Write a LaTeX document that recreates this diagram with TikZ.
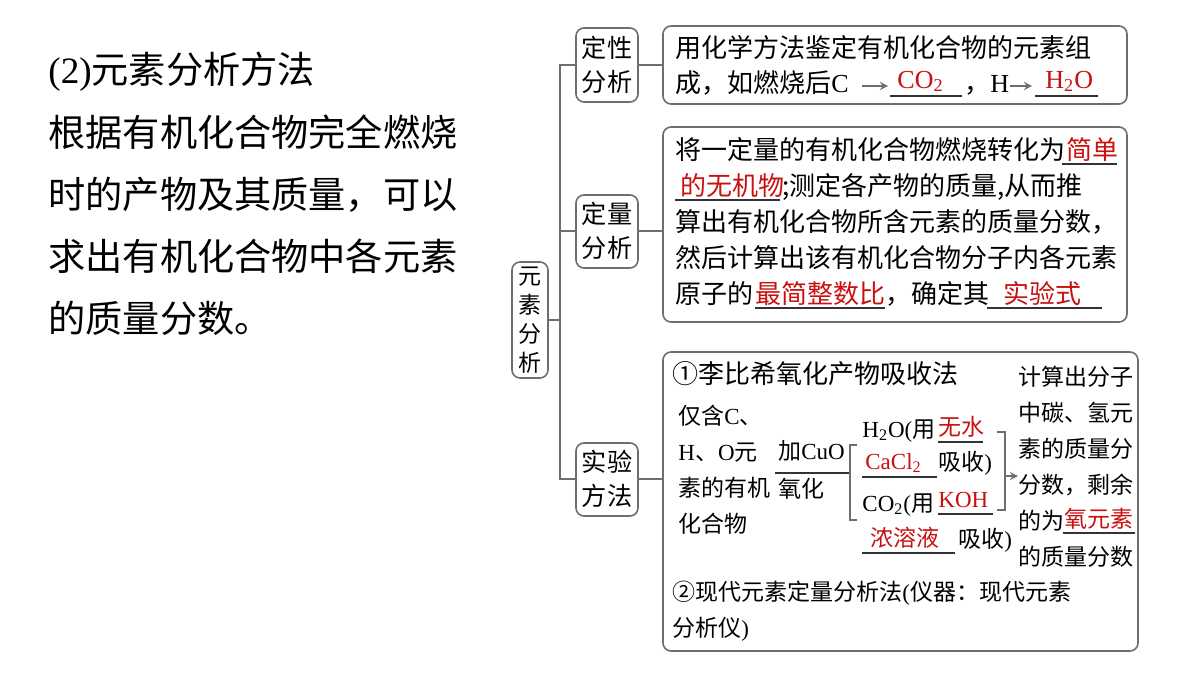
\documentclass[tikz,border=0pt]{standalone}
\usepackage{fontspec}
\setmainfont{Noto Sans CJK SC}
\newfontfamily\lat{Liberation Serif}
\definecolor{myred}{RGB}{200,16,16}
\definecolor{edge}{RGB}{110,110,110}
\begin{document}
\begin{tikzpicture}[x=0.5pt,y=-0.5pt,
  box/.style={draw=edge,line width=0.8pt,rounded corners=4pt},
  conn/.style={draw=edge,line width=0.8pt},
  t/.style={anchor=base west,inner sep=0pt,font=\fontsize{13}{14}\selectfont},
  s/.style={anchor=base west,inner sep=0pt,font=\fontsize{11.5}{13}\selectfont},
  big/.style={anchor=base west,inner sep=0pt,font=\fontsize{18.6}{20}\selectfont},
  lab/.style={align=center,inner sep=0pt,font=\fontsize{12.6}{17}\selectfont},
  ul/.style={draw=black!80,line width=0.6pt}]
\useasboundingbox (0,0) rectangle (1200,675);
% left text
\node[big] (l0) at (48,83) {{\lat (2)}元素分析方法};
\node[big] (l1) at (48,146) {根据有机化合物完全燃烧};
\node[big] (l2) at (48,208) {时的产物及其质量，可以};
\node[big] (l3) at (48,270) {求出有机化合物中各元素};
\node[big] (l4) at (48,332) {的质量分数。};
% tree
\draw[box] (512,262) rectangle (548,378);
\node[align=center,inner sep=0pt,font=\fontsize{11.5}{14.5}\selectfont] (root) at (530,320) {元\\素\\分\\析};
\draw[box] (576,28) rectangle (638,102);
\node[lab] (q1) at (607,65) {定性\\分析};
\draw[box] (576,195) rectangle (638,268);
\node[lab] (q2) at (607,231) {定量\\分析};
\draw[box] (576,443) rectangle (638,516);
\node[lab] (q3) at (607,479) {实验\\方法};
\coordinate (tr) at (560,320);
\draw[conn] (548,320) -- (tr);
\draw[conn] (638,65) -- (663,65);
\draw[conn] (638,231) -- (663,231);
\draw[conn] (638,479) -- (663,479);
\draw[conn] (576,65) -- (560,65) -- (560,479) -- (576,479);
\draw[conn] (560,231) -- (576,231);
% box1
\draw[box] (663,26) rectangle (1127,104);
\node[t] (b1a) at (675,57) {用化学方法鉴定有机化合物的元素组};
\node[t] (b1b) at (675,92) {成，如燃烧后{\lat C}};
\draw[conn,->,>=stealth] (862,86) -- (888,86);
\node[t,text=myred] (co2) at (897,88) {\lat CO\textsubscript{2}};
\draw[ul] (890,96) -- (962,96);
\node[t] (hh) at (964,92) {，{\lat H}};
\draw[conn,->,>=stealth] (1010,86) -- (1032,86);
\node[t,text=myred] (h2o) at (1045,88) {\lat H\textsubscript{2}O};
\draw[ul] (1035,96) -- (1098,96);
% box2
\draw[box] (663,127) rectangle (1127,322);
\node[t] (b2a) at (675,159) {将一定量的有机化合物燃烧转化为};
\node[t,text=myred] (r1) at (1066,159) {简单};
\draw[ul] (1062,164) -- (1117,164);
\node[t,text=myred] (r2) at (680,195) {的无机物};
\draw[ul] (675,200) -- (780,200);
\node[t] (b2b) at (782,195) {;测定各产物的质量,从而推};
\node[t] (b2c) at (675,231) {算出有机化合物所含元素的质量分数，};
\node[t] (b2d) at (675,267) {然后计算出该有机化合物分子内各元素};
\node[t] (b2e) at (675,303) {原子的};
\node[t,text=myred] (r3) at (755,303) {最简整数比};
\draw[ul] (755,308) -- (885,308);
\node[t] (b2f) at (885,303) {，确定其};
\node[t,text=myred] (r4) at (1003,303) {实验式};
\draw[ul] (987,308) -- (1102,308);
% box3
\draw[box] (663,352) rectangle (1138,651);
\node[t] (c1) at (672,383) {①李比希氧化产物吸收法};
\node[s] (d1) at (678,424) {仅含{\lat C}、};
\node[s] (d2) at (678,460) {{\lat H}、{\lat O}元};
\node[s] (d3) at (678,496) {素的有机};
\node[s] (d4) at (678,532) {化合物};
\node[s] (e1) at (778,459) {加{\lat CuO}};
\draw[ul] (775,473) -- (850,473);
\node[s] (e2) at (778,497) {氧化};
\draw[conn] (857,445) -- (850,445) -- (850,520) -- (857,520);
\node[s] (f1) at (862,437) {{\lat H\textsubscript{2}O(}用};
\node[s,text=myred] (f1r) at (938,435) {无水};
\draw[ul] (938,442) -- (983,442);
\node[s,text=myred] (f2r) at (865,469) {\lat CaCl\textsubscript{2}};
\draw[ul] (862,477) -- (937,477);
\node[s] (f2) at (938,470) {吸收{\lat )}};
\node[s] (f3) at (862,511) {{\lat CO\textsubscript{2}(}用};
\node[s,text=myred] (f3r) at (938,507) {\lat KOH};
\draw[ul] (938,514) -- (993,514);
\node[s,text=myred] (f4r) at (870,546) {浓溶液};
\draw[ul] (862,553) -- (955,553);
\node[s] (f4) at (958,547) {吸收{\lat )}};
\draw[conn] (997,432) -- (1005,432) -- (1005,510) -- (997,510);
\draw[conn,->,>=stealth] (1005,476) -- (1018,476);
\node[s] (g1) at (1018,385) {计算出分子};
\node[s] (g2) at (1018,421) {中碳、氢元};
\node[s] (g3) at (1018,457) {素的质量分};
\node[s] (g4) at (1018,493) {分数，剩余};
\node[s] (g5) at (1018,529) {的为};
\node[s,text=myred] (g5r) at (1064,527) {氧元素};
\draw[ul] (1063,533) -- (1135,533);
\node[s] (g6) at (1018,565) {的质量分数};
\node[s] (h1) at (672,600) {②现代元素定量分析法{\lat (}仪器：现代元素};
\node[s] (h2) at (672,636) {分析仪{\lat )}};
\end{tikzpicture}
\end{document}
